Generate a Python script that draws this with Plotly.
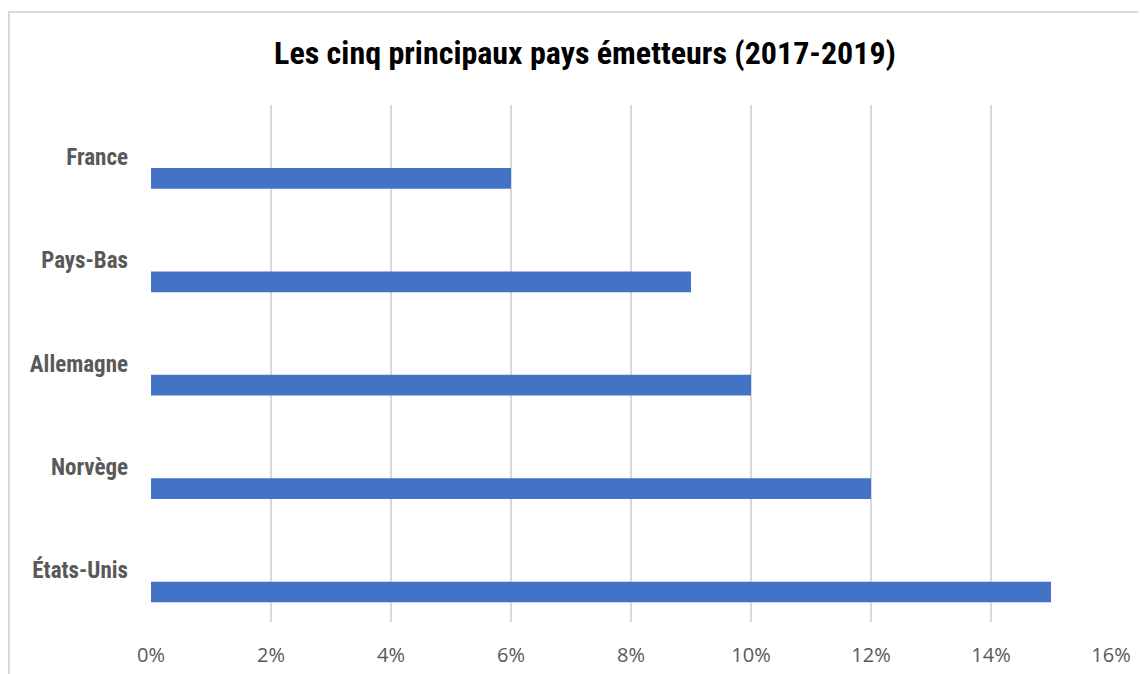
import plotly.graph_objects as go

pays = ["France", "Pays-Bas", "Allemagne", "Norvège", "États-Unis"]
parts = [0.06, 0.09, 0.10, 0.12, 0.15]
x_ticks = [0, 0.02, 0.04, 0.06, 0.08, 0.10, 0.12, 0.14, 0.16]
x_labels = ["0%", "2%", "4%", "6%", "8%", "10%", "12%", "14%", "16%"]

cond = "Roboto Condensed, Liberation Sans Narrow, DejaVu Sans Condensed, Roboto, sans-serif"

fig = go.Figure(go.Bar(
    y=pays, x=parts, orientation="h",
    marker=dict(color="#4472C4", line=dict(width=0)),
    width=0.2, offset=0.11,
))

# la page ajoute une marge de 8px autour du graphique
fig.update_layout(
    width=1146, height=674,
    paper_bgcolor="white", plot_bgcolor="white",
    margin=dict(l=143, r=43, t=97, b=60),
    showlegend=False,
    title=dict(text="<b>Les cinq principaux pays émetteurs (2017-2019)</b>",
               x=577 / 1146, xanchor="center", xref="container",
               y=1 - 45 / 674, yanchor="middle", yref="container",
               font=dict(family=cond, size=32, color="black")),
    shapes=[dict(type="rect", xref="paper", yref="paper",
                 x0=(9 - 151) / 960, x1=1.2, y0=-0.3, y1=(622 - 12) / 517,
                 line=dict(color="#d9d9d9", width=2), layer="below")],
)

fig.update_xaxes(range=[0, 0.16], tickvals=x_ticks, ticktext=x_labels,
                 showgrid=True, gridcolor="#d9d9d9", gridwidth=1.5,
                 zeroline=False, showline=False, ticks="",
                 ticklabelstandoff=19,
                 tickfont=dict(family="Open Sans, Noto Sans, sans-serif", size=20, color="#595959"))
fig.update_yaxes(categoryorder="array", categoryarray=pays, autorange="reversed",
                 showgrid=False, zeroline=False, showline=False, ticks="",
                 ticklabelstandoff=22,
                 tickprefix="<b>", ticksuffix="</b>",
                 tickfont=dict(family=cond, size=23, color="#595959"))

fig.write_html("out.html")
